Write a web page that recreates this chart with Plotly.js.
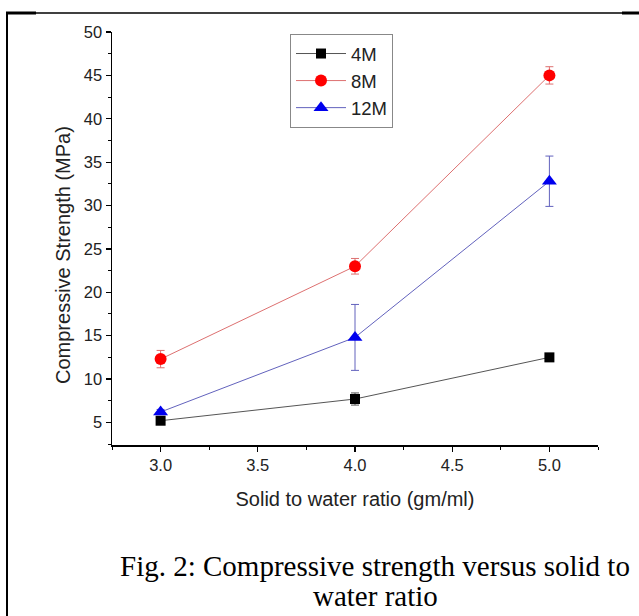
<!DOCTYPE html>
<html>
<head>
<meta charset="utf-8">
<script src="https://cdn.plot.ly/plotly-3.0.1.min.js"></script>
<style>html,body{margin:0;padding:0;background:#fff;}#chart{width:639px;height:616px;}</style>
</head>
<body>
<div id="chart"></div>
<script>
// Data
var ratios = [3.0, 4.0, 5.0];
var seriesNames = ["4M", "8M", "12M"];
var strength4M = [5.2, 7.7, 12.5];
var error4M = [0.3, 0.7, 0.3];
var strength8M = [12.3, 23.0, 45.0];
var error8M = [1.0, 0.9, 1.0];
var strength12M = [6.2, 14.8, 32.8];
var error12M = [0.3, 3.8, 2.9];
var yTicks = [5, 10, 15, 20, 25, 30, 35, 40, 45, 50];
var xTicks = [3.0, 3.5, 4.0, 4.5, 5.0];
var xTitle = "Solid to water ratio (gm/ml)";
var yTitle = "Compressive Strength (MPa)";
var caption1 = "Fig. 2: Compressive strength versus solid to";
var caption2 = "water ratio";

// plot area in pixels
var L = 112, R = 598, T = 32, B = 445;
function px(x){ return (x - L) / (R - L); }
function py(y){ return (B - y) / (B - T); }

function series(name, y, err, lineColor, markerColor, symbol, size){
  return {
    x: ratios, y: y, name: name, type: "scatter", mode: "lines+markers",
    line: {color: lineColor, width: 1},
    marker: {color: markerColor, symbol: symbol, size: size},
    error_y: {type: "data", array: err, visible: true, color: lineColor, thickness: 1, width: 4}
  };
}

var data = [
  series(seriesNames[0], strength4M, error4M, "#555555", "#000000", "square", 10),
  series(seriesNames[1], strength8M, error8M, "#dd7070", "#ff0000", "circle", 12),
  series(seriesNames[2], strength12M, error12M, "#6262bd", "#0000ee", "triangle-up", 13)
];

var sans = "Liberation Sans, Arial, sans-serif";
var axisFont = {family: sans, size: 16.5, color: "#222"};

var layout = {
  width: 639, height: 616,
  margin: {l: L, r: 639 - R, t: T, b: 616 - B, pad: 0},
  paper_bgcolor: "#ffffff", plot_bgcolor: "#ffffff",
  showlegend: true,
  legend: {
    x: px(290), y: py(34), xanchor: "left", yanchor: "top",
    bordercolor: "#888888", borderwidth: 1, bgcolor: "#ffffff",
    font: {family: sans, size: 18.5, color: "#222"},
    itemwidth: 50,
    tracegroupgap: 0
  },
  xaxis: {
    range: [2.75, 5.25], tickvals: xTicks, ticktext: xTicks.map(function(v){return v.toFixed(1);}),
    showline: true, linecolor: "#000", linewidth: 1.5, ticks: "outside", ticklen: 5, tickwidth: 1.3, tickcolor: "#000",
    minor: {ticks: "outside", ticklen: 3, dtick: 0.25, tick0: 2.75, tickcolor: "#000", tickwidth: 1},
    showgrid: false, zeroline: false, tickfont: axisFont,
    title: {text: xTitle, font: {family: sans, size: 20, color: "#222"}, standoff: 18}
  },
  yaxis: {
    range: [2.4, 50], tickvals: yTicks,
    showline: true, linecolor: "#000", linewidth: 1.5, ticks: "outside", ticklen: 5, tickwidth: 1.3, tickcolor: "#000",
    minor: {ticks: "outside", ticklen: 3, dtick: 2.5, tick0: 0, tickcolor: "#000", tickwidth: 1},
    showgrid: false, zeroline: false, tickfont: axisFont
  },
  shapes: [
    {type: "line", xref: "paper", yref: "paper", x0: px(6), x1: px(639), y0: py(13), y1: py(13), line: {color: "#000", width: 1.5}},
    {type: "line", xref: "paper", yref: "paper", x0: px(6), x1: px(36), y0: py(13), y1: py(13), line: {color: "#000", width: 3}},
    {type: "line", xref: "paper", yref: "paper", x0: px(622), x1: px(639), y0: py(13), y1: py(13), line: {color: "#000", width: 3}},
    {type: "line", xref: "paper", yref: "paper", x0: px(7), x1: px(7), y0: py(12), y1: py(616), line: {color: "#000", width: 2}}
  ],
  annotations: [
    {xref: "paper", yref: "paper", x: px(63), y: py(255), text: yTitle, textangle: -90, showarrow: false,
     xanchor: "center", yanchor: "middle", font: {family: sans, size: 20, color: "#222"}},
    {xref: "paper", yref: "paper", x: px(375), y: py(566), text: caption1, showarrow: false, xanchor: "center", yanchor: "middle",
     font: {family: "Liberation Serif, Times New Roman, serif", size: 29, color: "#000"}},
    {xref: "paper", yref: "paper", x: px(375), y: py(596), text: caption2, showarrow: false, xanchor: "center", yanchor: "middle",
     font: {family: "Liberation Serif, Times New Roman, serif", size: 29, color: "#000"}}
  ]
};

Plotly.newPlot("chart", data, layout, {staticPlot: true, displayModeBar: false});
</script>
</body>
</html>
